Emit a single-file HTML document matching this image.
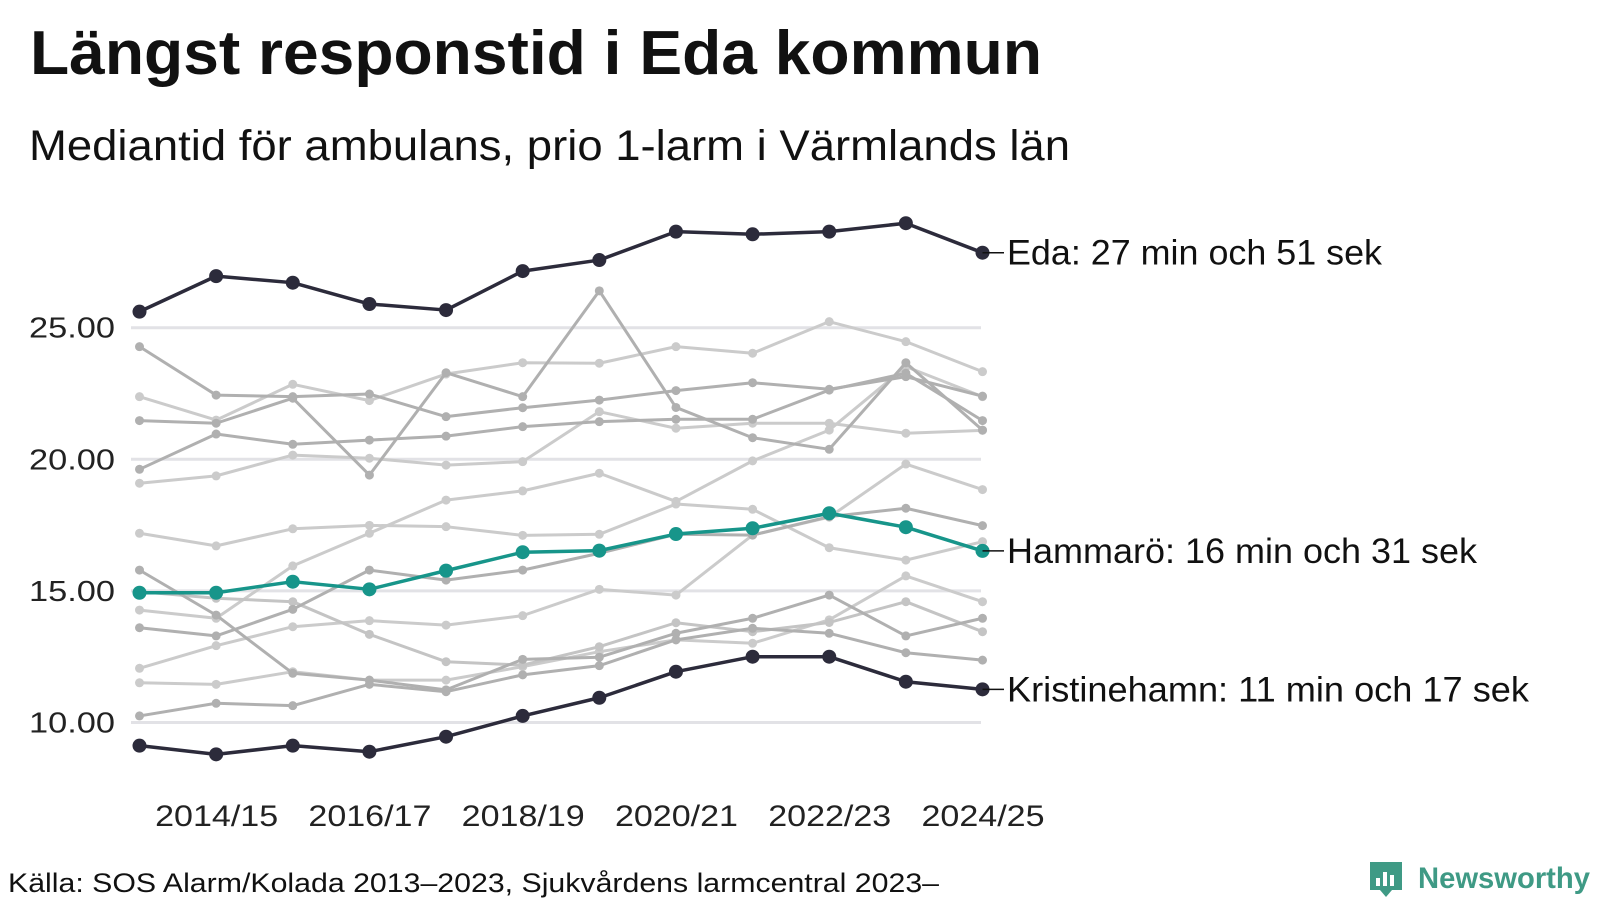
<!DOCTYPE html>
<html><head><meta charset="utf-8">
<style>
html,body{margin:0;padding:0;background:#fff;}
body{width:1600px;height:900px;overflow:hidden;font-family:"Liberation Sans",sans-serif;}
</style></head>
<body>
<svg id="chart" width="1600" height="900" xmlns="http://www.w3.org/2000/svg">
<text x="30" y="74" font-family="Liberation Sans, sans-serif" font-weight="bold" font-size="62" textLength="1012" lengthAdjust="spacingAndGlyphs" fill="#111">Längst responstid i Eda kommun</text>
<text x="29" y="160" font-family="Liberation Sans, sans-serif" font-size="43" textLength="1041" lengthAdjust="spacingAndGlyphs" fill="#111">Mediantid för ambulans, prio 1-larm i Värmlands län</text>
<g id="grid"></g>
<g id="yticks"></g>
<g id="xticks"></g>
<g id="gray"></g>
<g id="hi"></g>
<text x="8" y="892" font-family="Liberation Sans, sans-serif" font-size="27" textLength="931" lengthAdjust="spacingAndGlyphs" fill="#111">Källa: SOS Alarm/Kolada 2013–2023, Sjukvårdens larmcentral 2023–</text>
<g>
<path d="M1370 862 h32 v28 h-10 l-6 7 l-6 -7 h-10 z" fill="#3f9a85"/>
<rect x="1376" y="878" width="4" height="8" fill="#fff"/>
<rect x="1383" y="872" width="4" height="14" fill="#fff"/>
<rect x="1390" y="875" width="4" height="11" fill="#fff"/>
<text x="1418" y="888" font-family="Liberation Sans, sans-serif" font-weight="bold" font-size="30" textLength="172" lengthAdjust="spacingAndGlyphs" fill="#3f9a85">Newsworthy</text>
</g>
</svg>
<script>
const years = ["2013/14","2014/15","2015/16","2016/17","2017/18","2018/19","2019/20","2020/21","2021/22","2022/23","2023/24","2024/25"];
const yTicks = [10, 15, 20, 25];
const eda = [25.61,26.96,26.71,25.90,25.67,27.15,27.57,28.65,28.55,28.65,28.97,27.85];
const hammaro = [14.93,14.93,15.35,15.06,15.77,16.47,16.53,17.16,17.38,17.95,17.42,16.52];
const kristinehamn = [9.12,8.79,9.12,8.89,9.46,10.25,10.94,11.93,12.50,12.50,11.55,11.26];
const grayU1 = [24.28,22.44,22.38,22.48,21.62,21.96,22.25,22.61,22.91,22.66,23.14,22.40];
const grayU2 = [21.47,21.37,22.32,19.40,23.29,22.38,26.40,21.97,20.82,20.38,23.67,21.11];
const grayU3 = [22.38,21.49,22.85,22.23,23.24,23.67,23.65,24.28,24.03,25.23,24.47,23.33];
const grayU4 = [19.62,20.96,20.57,20.73,20.88,21.24,21.43,21.52,21.52,22.63,23.27,21.47];
const grayU5 = [19.09,19.37,20.16,20.04,19.78,19.91,21.81,21.18,21.37,21.37,20.99,21.10];
const grayP = [17.19,16.71,17.36,17.49,17.44,17.11,17.15,18.30,18.10,16.64,16.17,16.87];
const grayQ = [14.27,13.96,15.95,17.19,18.45,18.80,19.47,18.40,19.94,21.11,23.52,22.38];
const grayR = [13.60,13.29,14.30,15.79,15.41,15.79,16.43,17.15,17.12,17.82,18.14,17.48];
const grayS = [12.06,12.92,13.64,13.87,13.70,14.06,15.06,14.84,17.12,17.80,19.82,18.85];
const grayA = [14.97,14.72,14.59,13.35,12.31,12.18,12.88,13.79,13.45,13.80,14.59,13.45];
const grayB = [15.79,14.08,11.87,11.61,11.24,12.40,12.48,13.39,13.96,14.84,13.29,13.96];
const grayC = [11.51,11.45,11.93,11.61,11.61,12.12,12.69,13.14,13.01,13.90,15.57,14.59];
const grayD = [10.25,10.73,10.64,11.45,11.17,11.81,12.16,13.14,13.58,13.39,12.65,12.37];
const labels = ["Eda: 27 min och 51 sek","Hammarö: 16 min och 31 sek","Kristinehamn: 11 min och 17 sek"];
const labelWidths = [375,470,522];

const NS="http://www.w3.org/2000/svg";
const x0=139.5, x1=982.5;
function xs(i){return x0+(x1-x0)*i/(years.length-1);}
function ys(v){return 459.3-(v-20)*26.32;}
function mk(tag,attrs,parent){const e=document.createElementNS(NS,tag);for(const k in attrs)e.setAttribute(k,attrs[k]);parent.appendChild(e);return e;}

const grid=document.getElementById('grid'), yt=document.getElementById('yticks'), xt=document.getElementById('xticks');
yTicks.forEach(t=>{
  const l=mk('line',{x1:131,x2:981,y1:ys(t),y2:ys(t),stroke:'#e2e2e6','stroke-width':3},grid);
  
  
  const tx=mk('text',{x:29,y:ys(t)+10,'font-size':29,textLength:86,lengthAdjust:'spacingAndGlyphs',fill:'#222','font-family':'Liberation Sans, sans-serif'},yt);
  tx.textContent=t.toFixed(2);
  
  
});
years.forEach((y,i)=>{
  if(i%2===1){
    const tx=mk('text',{x:xs(i)-61,y:826,'font-size':30,textLength:123,lengthAdjust:'spacingAndGlyphs',fill:'#222','font-family':'Liberation Sans, sans-serif'},xt);
    tx.textContent=y;
    
    
  }
});
function series(vals,color,w,r,parent,name){
  const g=mk('g',{},parent);
  
  
  const p=mk('polyline',{points:vals.map((v,i)=>xs(i)+','+ys(v)).join(' '),fill:'none',stroke:color,'stroke-width':w,'stroke-linejoin':'round'},g);
  
  
  vals.forEach((v,i)=>{
    const c=mk('circle',{cx:xs(i),cy:ys(v),r:r,fill:color},g);
    
    
  });
}
const gray=document.getElementById('gray');
const grays=[[grayU3,'#cbcbcb'],[grayU5,'#cbcbcb'],[grayP,'#cbcbcb'],[grayQ,'#cbcbcb'],[grayS,'#cbcbcb'],[grayC,'#cbcbcb'],[grayA,'#c4c4c4'],
  [grayU1,'#b0b0b0'],[grayU2,'#b0b0b0'],[grayU4,'#b0b0b0'],[grayR,'#b0b0b0'],[grayB,'#b0b0b0'],[grayD,'#b0b0b0']];
grays.forEach((s,k)=>series(s[0],s[1],3,4.5,gray,'municipality-'+(k+1)));
const hi=document.getElementById('hi');
const his=[[eda,'#2c2b3b','eda'],[hammaro,'#17958a','hammaro'],[kristinehamn,'#2c2b3b','kristinehamn']];
his.forEach((s,k)=>{
  series(s[0],s[1],3.5,7,hi,s[2]+'-series');
  const last=s[0][s[0].length-1];
  const ln=mk('line',{x1:x1,x2:1004,y1:ys(last),y2:ys(last),stroke:'#111','stroke-width':1.5},hi);
  
  
  const t=mk('text',{x:1007,y:ys(last)+12,'font-size':35,textLength:labelWidths[k],lengthAdjust:'spacingAndGlyphs',fill:'#111','font-family':'Liberation Sans, sans-serif'},hi);
  t.textContent=labels[k];
  
  
});
</script>
</body></html>
